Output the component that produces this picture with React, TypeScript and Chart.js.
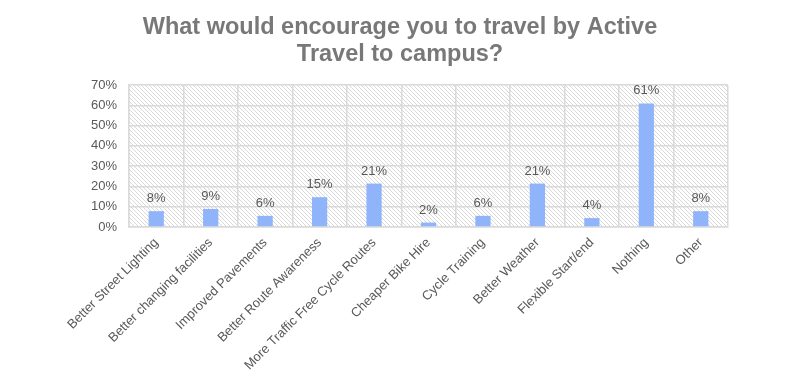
import React, { useEffect, useRef } from "react";
import { Chart, registerables } from "chart.js";

Chart.register(...registerables);

const categories = [
  "Better Street Lighting",
  "Better changing facilities",
  "Improved Pavements",
  "Better Route Awareness",
  "More Traffic Free Cycle Routes",
  "Cheaper Bike Hire",
  "Cycle Training",
  "Better Weather",
  "Flexible Start/end",
  "Nothing",
  "Other",
];
const values = [7.8, 8.9, 5.5, 14.7, 21.4, 2.2, 5.5, 21.4, 4.4, 60.9, 7.8];
const valueLabels = ["8%", "9%", "6%", "15%", "21%", "2%", "6%", "21%", "4%", "61%", "8%"];
const titleLines = ["What would encourage you to travel by Active", "Travel to campus?"];

const FONT = "'Liberation Sans', Arial, sans-serif";
const TEXT = "#595959";
const GRID = "#dadada";
const BAR = "#8fb4fa";

function makePattern(): CanvasPattern | string {
  const s = 4;
  const c = document.createElement("canvas");
  c.width = s;
  c.height = s;
  const g = c.getContext("2d");
  if (!g) return "#fff";
  g.fillStyle = "#ffffff";
  g.fillRect(0, 0, s, s);
  g.strokeStyle = "#d9d9d9";
  g.lineWidth = 1;
  g.beginPath();
  g.moveTo(-1, -1);
  g.lineTo(s + 1, s + 1);
  g.moveTo(-1, s - 1);
  g.lineTo(1, s + 1);
  g.moveTo(s - 1, -1);
  g.lineTo(s + 1, 1);
  g.stroke();
  const p = g.createPattern(c, "repeat");
  return p || "#fff";
}

const hatchPlugin = {
  id: "hatch",
  beforeDraw(chart: any) {
    const { ctx, chartArea } = chart;
    if (!chartArea) return;
    ctx.save();
    ctx.fillStyle = makePattern();
    ctx.fillRect(chartArea.left, chartArea.top, chartArea.right - chartArea.left, chartArea.bottom - chartArea.top);
    ctx.restore();
  },
};

const titlePlugin = {
  id: "centeredTitle",
  afterDraw(chart: any) {
    const { ctx, width } = chart;
    ctx.save();
    ctx.font = `bold 23.5px ${FONT}`;
    ctx.fillStyle = "#787878";
    ctx.textAlign = "center";
    ctx.textBaseline = "alphabetic";
    titleLines.forEach((line, i) => {
      ctx.fillText(line, width / 2, 34 + i * 27);
    });
    ctx.restore();
  },
};

const labelPlugin = {
  id: "valueLabels",
  afterDatasetsDraw(chart: any) {
    const { ctx } = chart;
    const meta = chart.getDatasetMeta(0);
    ctx.save();
    ctx.font = `13px ${FONT}`;
    ctx.fillStyle = TEXT;
    ctx.textAlign = "center";
    ctx.textBaseline = "alphabetic";
    meta.data.forEach((el: any, i: number) => {
      ctx.fillText(valueLabels[i], el.x, el.y - 9);
    });
    ctx.restore();
  },
};

export default function App() {
  const ref = useRef<HTMLCanvasElement | null>(null);
  useEffect(() => {
    if (!ref.current) return;
    const chart = new Chart(ref.current, {
      type: "bar",
      data: {
        labels: categories,
        datasets: [
          {
            data: values,
            backgroundColor: BAR,
            borderWidth: 0,
            barPercentage: 0.28,
            categoryPercentage: 1,
          },
        ],
      },
      plugins: [hatchPlugin, labelPlugin, titlePlugin],
      options: {
        animation: false,
        responsive: true,
        maintainAspectRatio: false,
        layout: { padding: { left: 0, right: 72, top: 85, bottom: 0 } },
        plugins: {
          legend: { display: false },
          tooltip: { enabled: false },
          title: { display: false },
        },
        scales: {
          x: {
            grid: { color: GRID, lineWidth: 1.5, drawTicks: false, offset: true },
            border: { color: GRID, width: 1.5 },
            ticks: {
              color: TEXT,
              font: { family: FONT, size: 13 },
              maxRotation: 45,
              minRotation: 45,
              autoSkip: false,
              padding: 8,
            },
            afterFit(scale: any) {
              scale.height = 160;
            },
          },
          y: {
            min: 0,
            max: 70,
            grid: { color: GRID, lineWidth: 1.5, drawTicks: false },
            border: { color: GRID, width: 1.5 },
            ticks: {
              stepSize: 10,
              color: TEXT,
              font: { family: FONT, size: 13 },
              padding: 12,
              callback: (v: any) => `${v}%`,
            },
            afterFit(scale: any) {
              scale.width = 129;
            },
          },
        },
      },
    });
    return () => chart.destroy();
  }, []);
  return (
    <div style={{ position: "absolute", left: 0, top: 0, width: 800, height: 387, background: "#fff" }}>
      <canvas ref={ref} />
    </div>
  );
}
